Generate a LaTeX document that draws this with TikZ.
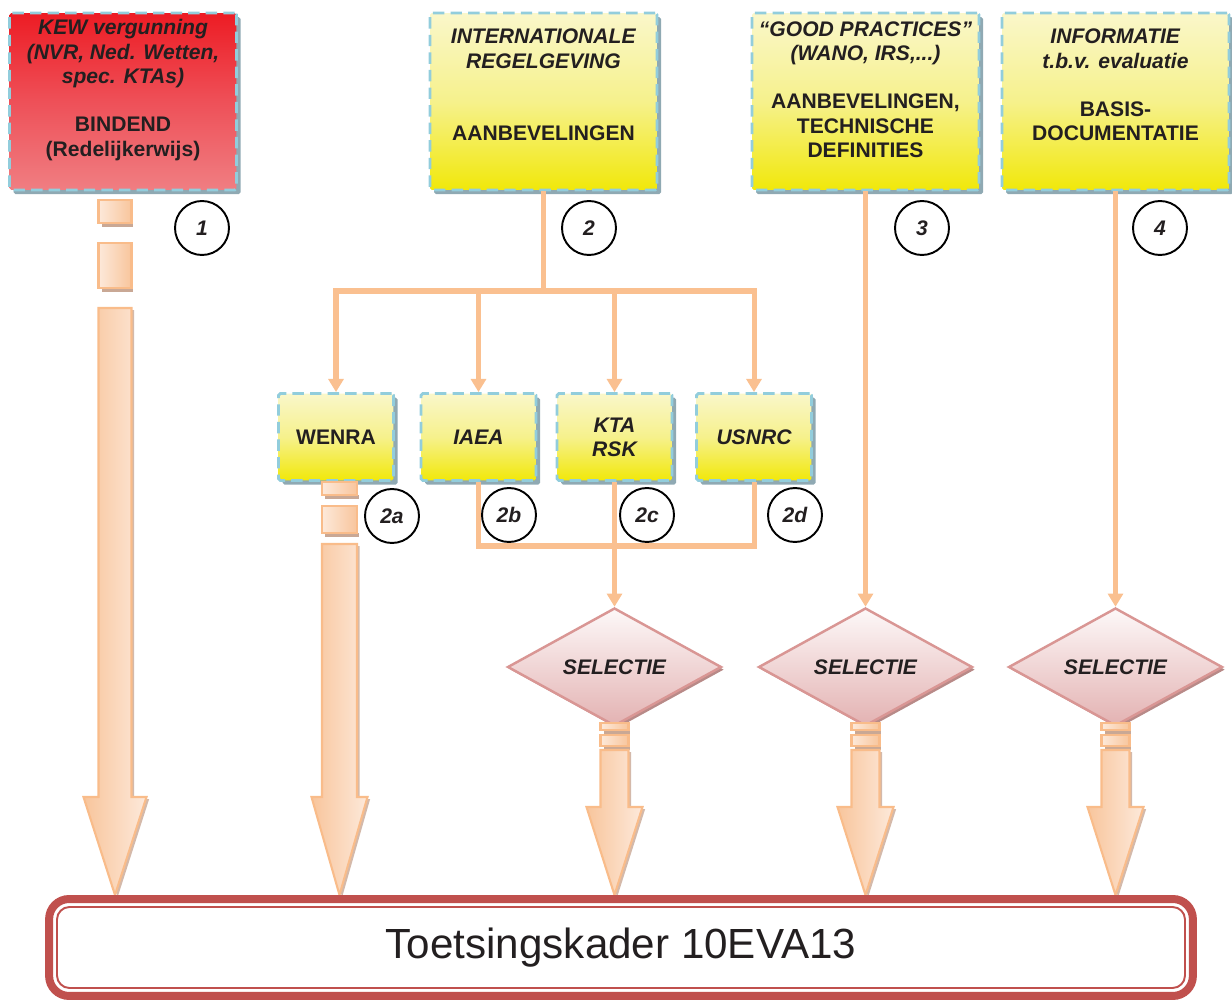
\documentclass[tikz,border=0pt]{standalone}
\usepackage{fontspec}
\setmainfont{Liberation Sans}
\usetikzlibrary{shapes.geometric,arrows.meta,shadows}

\definecolor{connc}{HTML}{FAC090}
\definecolor{dashblue}{HTML}{92CDDC}
\definecolor{shadowblue}{HTML}{8FA9B3}
\definecolor{ylTop}{HTML}{FAF7CA}
\definecolor{ylMid}{HTML}{F6F18C}
\definecolor{ylBot}{HTML}{F1E80A}
\definecolor{rdTop}{HTML}{ED1C24}
\definecolor{rdMid}{HTML}{EE5058}
\definecolor{rdBot}{HTML}{F07E82}
\definecolor{dmTop}{HTML}{FDF8F8}
\definecolor{dmBot}{HTML}{E3B2B2}
\definecolor{dmLine}{HTML}{D99694}
\definecolor{dmShadow}{HTML}{B88A88}
\definecolor{arLight}{HTML}{FDE9DA}
\definecolor{arDark}{HTML}{F8C59C}
\definecolor{arLine}{HTML}{F9BC8A}
\definecolor{arShadow}{HTML}{C9A895}
\definecolor{kaderRed}{HTML}{C0504D}
\definecolor{txtc}{HTML}{231F20}

\newcommand\blkarrow[6]{% x, ytop, yhead, ytip, halfshaft, halfhead
  \path[arrowbody] (#1-#5,#2) -- (#1+#5,#2) -- (#1+#5,#3) -- (#1+#6,#3) -- (#1,#4) -- (#1-#6,#3) -- (#1-#5,#3) -- cycle;}
\newcommand\blkpiece[4]{% x, ytop, ybot, halfw
  \fill[arShadow] (#1-#4+3,#3) rectangle (#1+#4+1.5,#3+4);
  \path[arrowpiece] (#1-#4,#2) rectangle (#1+#4,#3);}

\begin{document}
\begin{tikzpicture}[x=0.02cm,y=-0.02cm,
  topbox/.style={rectangle, draw=dashblue, line width=1.6pt, dash pattern=on 6.5pt off 3.5pt,
    rounded corners=1pt, inner sep=0pt,
    drop shadow={shadow xshift=2.3pt, shadow yshift=-2.3pt, fill=shadowblue, opacity=1}},
  ylbox/.style={topbox, top color=ylTop, bottom color=ylBot, middle color=ylMid},
  bigbox/.style={minimum width=4.54cm, minimum height=3.54cm},
  smallbox/.style={ylbox, minimum width=2.3cm, minimum height=1.74cm, align=center,
    font=\fontsize{12}{13.8}\selectfont\bfseries, text=txtc},
  txtblock/.style={align=center, font=\fontsize{12}{13.8}\selectfont\bfseries, text=txtc, inner sep=0pt},
  num/.style={circle, draw=black, line width=1.1pt, minimum size=1.08cm, inner sep=0pt,
    font=\fontsize{12}{14}\selectfont\bfseries\itshape, text=txtc},
  sel/.style={diamond, draw=dmLine, line width=1.4pt, top color=dmTop, bottom color=dmBot,
    minimum width=4.28cm, minimum height=2.2cm, inner sep=0pt,
    font=\fontsize{12}{14}\selectfont\bfseries\itshape, text=txtc,
    drop shadow={shadow xshift=1.5pt, shadow yshift=-1.5pt, fill=dmShadow, opacity=1}},
  conn/.style={draw=connc, line width=2.85pt},
  tipc/.style={-{Triangle[length=7.5pt,width=8.5pt]}},
  arrowbody/.style={draw=arLine, line width=1.2pt, left color=arDark, right color=arLight,
    drop shadow={shadow xshift=1.5pt, shadow yshift=-1.2pt, fill=arShadow, opacity=.8}},
  arrowpiece/.style={draw=arLine, line width=1.2pt, left color=arLight, right color=arDark},
  kader/.style={draw=kaderRed, line width=4.55pt, rounded corners=0.4cm, fill=white,
    minimum width=22.88cm, minimum height=1.94cm, font=\fontsize{24}{28}\selectfont, text=txtc}
]
\useasboundingbox (0,0) rectangle (1232,1003);

% top boxes
\node[topbox, bigbox, top color=rdTop, bottom color=rdBot, middle color=rdMid] (kew) at (123,101.5) {};
\node[ylbox, bigbox] (intl) at (543.5,101.5) {};
\node[ylbox, bigbox] (good) at (865.5,101.5) {};
\node[ylbox, bigbox] (info) at (1115.5,101.5) {};

\node[txtblock] (kewt) at (123,90) {\textit{KEW vergunning}\\\textit{(NVR, Ned. Wetten,}\\\textit{spec. KTAs)}\\[13.8pt]BINDEND\\(Redelijkerwijs)};
\node[txtblock] (intlt) at (543.5,85) {\textit{INTERNATIONALE}\\\textit{REGELGEVING}\\[27.6pt]AANBEVELINGEN};
\node[txtblock] (goodt) at (865.5,89.5) {\textit{“GOOD PRACTICES”}\\\textit{(WANO, IRS,...)}\\[13.8pt]AANBEVELINGEN,\\TECHNISCHE\\DEFINITIES};
\node[txtblock] (infot) at (1115.5,85) {\textit{INFORMATIE}\\\textit{t.b.v. evaluatie}\\[13.8pt]BASIS-\\DOCUMENTATIE};

% small boxes
\node[smallbox] (wenra) at (336,437) {WENRA};
\node[smallbox, font=\fontsize{12}{13.8}\selectfont\bfseries\itshape] (iaea) at (478.5,437) {IAEA};
\node[smallbox, font=\fontsize{12}{13.8}\selectfont\bfseries\itshape] (kta) at (614.5,437) {KTA\\RSK};
\node[smallbox, font=\fontsize{12}{13.8}\selectfont\bfseries\itshape] (usnrc) at (754,437) {USNRC};

% diamonds
\node[sel] (sel1) at (614.5,667) {SELECTIE};
\node[sel] (sel2) at (865.5,667) {SELECTIE};
\node[sel] (sel3) at (1115.5,667) {SELECTIE};

% number circles
\node[num] (n1) at (202,228) {1};
\node[num] (n2) at (589,228) {2};
\node[num] (n3) at (922,228) {3};
\node[num] (n4) at (1160,228) {4};
\node[num] (n2a) at (392,516) {2a};
\node[num] (n2b) at (509,515) {2b};
\node[num] (n2c) at (647,515) {2c};
\node[num] (n2d) at (795,515) {2d};

% connectors
\coordinate (split) at (543.5,291);
\coordinate (join) at (614.5,546);
\draw[conn] (intl.south) -- (split);
\draw[conn,tipc] (split) -| (wenra.north);
\draw[conn,tipc] (split) -| (iaea.north);
\draw[conn,tipc] (split) -| (kta.north);
\draw[conn,tipc] (split) -| (usnrc.north);
\draw[conn] (iaea.south) |- (join);
\draw[conn] (usnrc.south) |- (join);
\draw[conn,tipc] (kta.south) -- (sel1.north);
\draw[conn,tipc] (good.south) -- (sel2.north);
\draw[conn,tipc] (info.south) -- (sel3.north);

% block arrows
\blkpiece{115}{200}{223}{16.5}
\blkpiece{115}{243}{288}{16.5}
\blkarrow{115}{308}{797}{895}{16.5}{31.5}

\blkpiece{339.5}{482}{495}{17.5}
\blkpiece{339.5}{506}{533}{17.5}
\blkarrow{339.5}{544}{797}{895}{17.5}{28}

\blkpiece{614.5}{723}{730}{14}
\blkpiece{614.5}{735}{746}{14}
\blkarrow{614.5}{750}{807}{895}{14}{28}

\blkpiece{865.5}{723}{730}{14}
\blkpiece{865.5}{735}{746}{14}
\blkarrow{865.5}{750}{807}{895}{14}{28}

\blkpiece{1115.5}{723}{730}{14}
\blkpiece{1115.5}{735}{746}{14}
\blkarrow{1115.5}{750}{807}{895}{14}{28}

% bottom frame
\node[kader] (kaderbox) at (621,947.5) {Toetsingskader 10EVA13};
\draw[kaderRed, line width=1.1pt, rounded corners=0.25cm] (57,907) rectangle (1185,988);
\end{tikzpicture}
\end{document}
